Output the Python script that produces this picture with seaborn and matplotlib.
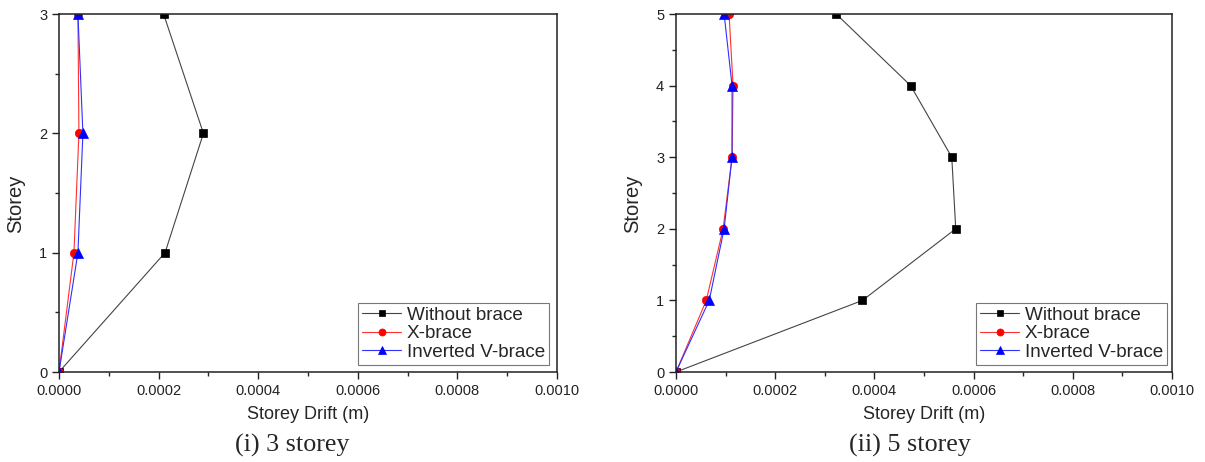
import numpy as np
import pandas as pd
import matplotlib
matplotlib.use("Agg")
import matplotlib.pyplot as plt
import seaborn as sns
from matplotlib.ticker import MultipleLocator, FormatStrFormatter

# ---- data ----
series_names = ["Without brace", "X-brace", "Inverted V-brace"]

storey3 = [0, 1, 2, 3]
s3_without = [0.0, 0.000213, 0.000290, 0.000210]
s3_xbrace = [0.0, 0.000030, 0.000040, 0.000038]
s3_invv = [0.0, 0.000038, 0.000048, 0.000038]

storey5 = [0, 1, 2, 3, 4, 5]
s5_without = [0.0, 0.000376, 0.000564, 0.000556, 0.000473, 0.000323]
s5_xbrace = [0.0, 0.000061, 0.000095, 0.000113, 0.000115, 0.000107]
s5_invv = [0.0, 0.000067, 0.000097, 0.000113, 0.000113, 0.000097]

captions = ["(i) 3 storey", "(ii) 5 storey"]
xlabel = "Storey Drift (m)"
ylabel = "Storey"

sns.set_style("ticks")
plt.rcParams["font.family"] = ["Liberation Sans", "DejaVu Sans"]

colors = {"Without brace": "#000000", "X-brace": "#ff0000", "Inverted V-brace": "#0000ff"}
markers = {"Without brace": "s", "X-brace": "o", "Inverted V-brace": "^"}
msizes = {"Without brace": 5.8, "X-brace": 6.0, "Inverted V-brace": 7.2}
lcolors = {"Without brace": "#444444", "X-brace": "#ff3030", "Inverted V-brace": "#3030ff"}

fig = plt.figure(figsize=(12.05, 4.62), dpi=100)
ax1 = fig.add_axes([59/1205, 1-372/462, 498/1205, 358/462])
ax2 = fig.add_axes([676/1205, 1-372/462, 496/1205, 358/462])

panels = [
    (ax1, storey3, [s3_without, s3_xbrace, s3_invv], 3, 0.984, -34/498),
    (ax2, storey5, [s5_without, s5_xbrace, s5_invv], 5, 0.99, -34/496),
]

for ax, st, vals, top, lx, ylx in panels:
    for name, v in zip(series_names, vals):
        df = pd.DataFrame({"drift": v, "storey": st})
        sns.lineplot(data=df, x="drift", y="storey", sort=False, estimator=None,
                     ax=ax, color=lcolors[name], lw=0.8, marker=markers[name],
                     markersize=msizes[name], markerfacecolor=colors[name],
                     markeredgecolor=colors[name], markeredgewidth=0.5, label=name)
    ax.set_xlim(0, 0.0010)
    ax.set_ylim(0, top)
    ax.xaxis.set_major_locator(MultipleLocator(0.0002))
    ax.xaxis.set_minor_locator(MultipleLocator(0.0001))
    ax.xaxis.set_major_formatter(FormatStrFormatter("%.4f"))
    ax.yaxis.set_major_locator(MultipleLocator(1))
    ax.yaxis.set_minor_locator(MultipleLocator(0.5))
    ax.tick_params(which="major", direction="out", length=5, width=1, labelsize=10.5, colors="#222222")
    ax.tick_params(which="minor", direction="out", length=3, width=1)
    for sp in ax.spines.values():
        sp.set_visible(True)
        sp.set_linewidth(1.1)
        sp.set_color("#222222")
    ax.set_xlabel(xlabel, fontsize=13, labelpad=6)
    ax.set_ylabel(ylabel, fontsize=14.5)
    ax.yaxis.set_label_coords(ylx, 0.47)
    leg = ax.legend(loc="lower right", bbox_to_anchor=(lx, 0.02), fontsize=13.6,
                    frameon=True, fancybox=False, framealpha=1, edgecolor="#777777",
                    handlelength=2.1, handletextpad=0.3, labelspacing=0.08,
                    borderpad=0.2, borderaxespad=0)
    leg.get_frame().set_linewidth(0.8)
    for h in leg.legend_handles:
        h.set_markersize(h.get_markersize() * 0.85)

fig.text(292 / 1205, 10 / 462, captions[0], ha="center", va="baseline",
         fontsize=18.8, family=["Liberation Serif", "DejaVu Serif"])
fig.text(910 / 1205, 10 / 462, captions[1], ha="center", va="baseline",
         fontsize=18.8, family=["Liberation Serif", "DejaVu Serif"])

fig.savefig("out.png", dpi=100)
